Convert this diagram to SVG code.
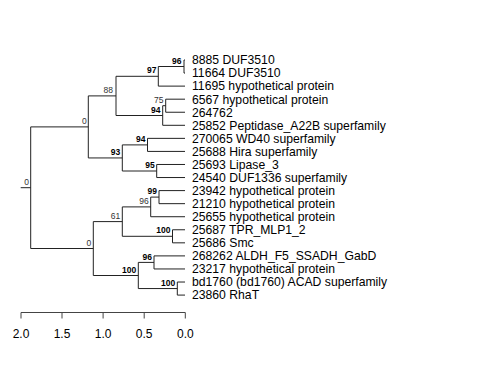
<svg xmlns="http://www.w3.org/2000/svg" width="480" height="384" viewBox="0 0 480 384">
<style>
.e{fill:none;stroke:#222;stroke-width:1}
.lf{font-family:"Liberation Sans",Arial,sans-serif;font-size:12.2px;fill:#000}
.nb{font-family:"Liberation Sans",Arial,sans-serif;font-size:8.5px;font-weight:bold;fill:#000;text-anchor:end}
.nn{font-family:"Liberation Sans",Arial,sans-serif;font-size:8.5px;fill:#333;text-anchor:end}
.ax{font-family:"Liberation Sans",Arial,sans-serif;font-size:12px;fill:#000;text-anchor:middle}
</style>
<rect width="480" height="384" fill="#fff"/>
<g id="connectors">
<path class="e" d="M20.7 187.7H30.7M30.7 126.9V248.5M30.7 126.9H88.3M30.7 248.5H93.3
M88.3 95.9V157.95M88.3 95.9H116M88.3 157.95H122.3
M116 76.3V115.5M116 76.3H158.3M116 115.5H162.7
M158.3 66.5V86.12M158.3 66.5H184M158.3 86.12H185
M184 60V73.06M184 60H185M184 73.06H185
M162.7 105.7V125.3M162.7 105.7H165.7M162.7 125.3H185
M165.7 99.18V112.24M165.7 99.18H185M165.7 112.24H185
M122.3 144.9V171M122.3 144.9H147.5M122.3 171H156.7
M147.5 138.36V151.42M147.5 138.36H185M147.5 151.42H185
M156.7 164.48V177.54M156.7 164.48H185M156.7 177.54H185
M93.3 221.6V275.5M93.3 221.6H122.3M93.3 275.5H138.3
M122.3 206.9V236.3M122.3 206.9H150.7M122.3 236.3H172.5
M150.7 197.1V216.72M150.7 197.1H159M150.7 216.72H185
M159 190.6V203.66M159 190.6H185M159 203.66H185
M172.5 229.78V242.84M172.5 229.78H185M172.5 242.84H185
M138.3 262.4V288.55M138.3 262.4H154M138.3 288.55H177.3
M154 255.9V268.96M154 255.9H185M154 268.96H185
M177.3 282.02V295.08M177.3 282.02H185M177.3 295.08H185"/>
</g>
<g id="node-labels">
<text class="nn" x="29" y="184.7">0</text>
<text class="nn" x="86.8" y="124">0</text>
<text class="nn" x="113" y="93">88</text>
<text class="nb" x="156.5" y="73.4">97</text>
<text class="nb" x="181.5" y="63.6">96</text>
<text class="nn" x="163.5" y="102.8">75</text>
<text class="nb" x="160.5" y="112.6">94</text>
<text class="nb" x="120.3" y="155">93</text>
<text class="nb" x="145.5" y="142">94</text>
<text class="nb" x="154.7" y="168.1">95</text>
<text class="nn" x="91.3" y="245.6">0</text>
<text class="nn" x="120.3" y="218.7">61</text>
<text class="nn" x="148.7" y="204">96</text>
<text class="nb" x="157" y="194.2">99</text>
<text class="nb" x="170.5" y="233.4">100</text>
<text class="nb" x="136.3" y="272.6">100</text>
<text class="nb" x="152" y="259.5">96</text>
<text class="nb" x="175.3" y="285.6">100</text>
</g>
<g id="leaves">
<text class="lf" x="192" y="64.3">8885 DUF3510</text>
<text class="lf" x="192" y="77.4">11664 DUF3510</text>
<text class="lf" x="192" y="90.4">11695 hypothetical protein</text>
<text class="lf" x="192" y="103.5">6567 hypothetical protein</text>
<text class="lf" x="192" y="116.5">264762</text>
<text class="lf" x="192" y="129.6">25852 Peptidase_A22B superfamily</text>
<text class="lf" x="192" y="142.7">270065 WD40 superfamily</text>
<text class="lf" x="192" y="155.7">25688 Hira superfamily</text>
<text class="lf" x="192" y="168.8">25693 Lipase_3</text>
<text class="lf" x="192" y="181.8">24540 DUF1336 superfamily</text>
<text class="lf" x="192" y="194.9">23942 hypothetical protein</text>
<text class="lf" x="192" y="208">21210 hypothetical protein</text>
<text class="lf" x="192" y="221">25655 hypothetical protein</text>
<text class="lf" x="192" y="234.1">25687 TPR_MLP1_2</text>
<text class="lf" x="192" y="247.1">25686 Smc</text>
<text class="lf" x="192" y="260.2">268262 ALDH_F5_SSADH_GabD</text>
<text class="lf" x="192" y="273.3">23217 hypothetical protein</text>
<text class="lf" x="192" y="286.3">bd1760 (bd1760) ACAD superfamily</text>
<text class="lf" x="192" y="299.4">23860 RhaT</text>
</g>
<g id="axis">
<path fill="none" stroke="#444" stroke-width="1" d="M21 312.5H185.3M21 312.5V318.5M62 312.5V318.5M103.1 312.5V318.5M144.2 312.5V318.5M185.3 312.5V318.5"/>
<text class="ax" x="21" y="337.5">2.0</text>
<text class="ax" x="62" y="337.5">1.5</text>
<text class="ax" x="103.1" y="337.5">1.0</text>
<text class="ax" x="144.2" y="337.5">0.5</text>
<text class="ax" x="185.3" y="337.5">0.0</text>
</g>
</svg>
